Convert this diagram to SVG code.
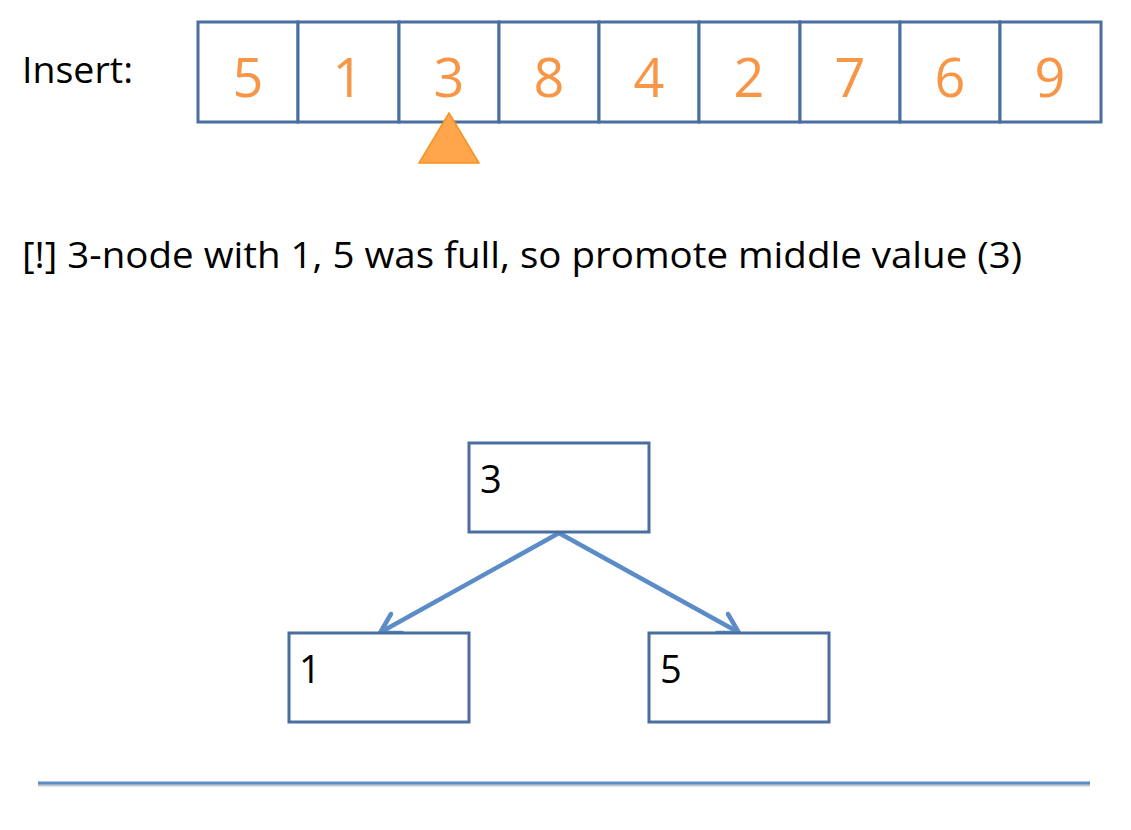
<svg xmlns="http://www.w3.org/2000/svg" width="1131" height="830" viewBox="0 0 1131 830">
<style>
.cell{fill:#fff;stroke:#4A6EA0;stroke-width:3}
.num{font-family:"Open Sans","Liberation Sans",sans-serif;font-size:54px;fill:#F79646;text-anchor:middle}
.node{fill:#fff;stroke:#4A6EA0;stroke-width:3}
.lbl{font-family:"Open Sans","Liberation Sans",sans-serif;font-size:38px;fill:#000}
.edge{stroke:#5B8CC8;stroke-width:4.5;fill:none;stroke-linecap:round;stroke-linejoin:round}
</style>
<text x="22" y="83" font-family="'Open Sans','Liberation Sans',sans-serif" font-size="37" fill="#000" textLength="111" lengthAdjust="spacingAndGlyphs">Insert:</text>
<g id="array">
<rect class="cell" x="198" y="22" width="100" height="100"/>
<rect class="cell" x="298" y="22" width="101" height="100"/>
<rect class="cell" x="399" y="22" width="100" height="100"/>
<rect class="cell" x="499" y="22" width="100" height="100"/>
<rect class="cell" x="599" y="22" width="100" height="100"/>
<rect class="cell" x="699" y="22" width="101" height="100"/>
<rect class="cell" x="800" y="22" width="100" height="100"/>
<rect class="cell" x="900" y="22" width="100" height="100"/>
<rect class="cell" x="1000" y="22" width="101" height="100"/>
<text class="num" x="248" y="97">5</text>
<text class="num" x="348" y="97">1</text>
<text class="num" x="449" y="97">3</text>
<text class="num" x="549" y="97">8</text>
<text class="num" x="649" y="97">4</text>
<text class="num" x="749" y="97">2</text>
<text class="num" x="850" y="97">7</text>
<text class="num" x="950" y="97">6</text>
<text class="num" x="1050" y="97">9</text>
</g>
<polygon id="pointer" points="449,113 479,163 419,163" fill="#FFA64D" stroke="#F7921E" stroke-width="1.5"/>
<text x="22" y="268" font-family="'Open Sans','Liberation Sans',sans-serif" font-size="36" fill="#000" textLength="1000" lengthAdjust="spacingAndGlyphs">[!] 3-node with 1, 5 was full, so promote middle value (3)</text>
<g id="connectors">
<line class="edge" x1="559" y1="533" x2="381" y2="632"/>
<path class="edge" d="M391,614 L380,633 L402,633"/>
<line class="edge" x1="559" y1="533" x2="738" y2="632"/>
<path class="edge" d="M728,614 L739,633 L717,633"/>
</g>
<g id="node3">
<rect class="node" x="469" y="443" width="180" height="89"/>
<text class="lbl" x="480" y="493">3</text>
</g>
<g id="node1">
<rect class="node" x="289" y="633" width="180" height="89"/>
<text class="lbl" x="299" y="683">1</text>
</g>
<g id="node5">
<rect class="node" x="649" y="633" width="180" height="89"/>
<text class="lbl" x="660" y="683">5</text>
</g>
<line x1="38" y1="785" x2="1090" y2="785" stroke="#C8C8C8" stroke-width="3"/>
<line x1="38" y1="783" x2="1090" y2="783" stroke="#5B8CC8" stroke-width="3"/>
</svg>
